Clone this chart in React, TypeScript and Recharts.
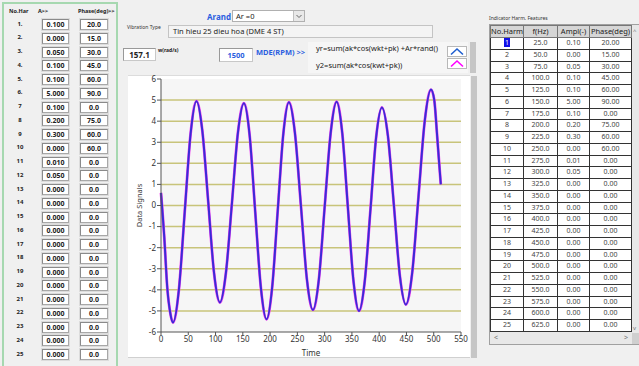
import { LineChart, Line, XAxis, YAxis, CartesianGrid, ReferenceLine } from 'recharts';

// harmonic inputs (left panel) and table (right panel)
const harmNo = ['1.', '2.', '3.', '4.', '5.', '6.', '7', '8', '9', '10', '11', '12', '13', '14', '15', '16', '17', '18', '19', '20', '21', '22', '23', '24', '25'];
const amplitudes = [0.1, 0, 0.05, 0.1, 0.1, 5, 0.1, 0.2, 0.3, 0, 0.01, 0.05, 0, 0, 0, 0, 0, 0, 0, 0, 0, 0, 0, 0, 0];
const phases = [20, 15, 30, 45, 60, 90, 0, 75, 60, 60, 0, 0, 0, 0, 0, 0, 0, 0, 0, 0, 0, 0, 0, 0, 0];
const freqs = [25, 50, 75, 100, 125, 150, 175, 200, 225, 250, 275, 300, 325, 350, 375, 400, 425, 450, 475, 500, 525, 550, 575, 600, 625];

// signal
const timeValues = [0, 6, 11.5, 17, 22, 32.75, 43.5, 54.25, 65, 75.75, 86.5, 97.25, 108, 119, 130, 141, 152, 162.4, 172.75, 183.1, 193.5, 203.75, 214, 224.25, 234.5, 245.5, 256.5, 267.5, 278.5, 289.4, 300.25, 311.1, 322, 332.25, 342.5, 352.75, 363, 373.5, 384, 394.5, 405, 416, 427, 438, 449, 460.5, 472, 483.5, 495, 501, 506, 510, 513];
const yrValues = [0.6, -1.5, -3.9, -5.1, -5.55, -4.0, -0.3, 3.4, 4.95, 3.55, 0.2, -3.2, -4.6, -3.2, 0.1, 3.45, 4.85, 3.35, -0.3, -3.9, -5.4, -3.9, -0.25, 3.4, 4.9, 3.45, 0, -3.5, -4.95, -3.5, 0, 3.45, 4.92, 3.45, -0.05, -3.55, -5.0, -3.6, -0.2, 3.25, 4.65, 3.3, 0, -3.35, -4.7, -3.2, 0.4, 4.0, 5.5, 5.0, 3.4, 2.0, 1.0];
const y2Values = yrValues; // Ar = 0, so both signals coincide

const xTicks = [0, 50, 100, 150, 200, 250, 300, 350, 400, 450, 500, 550];
const yTicks = [-6, -5, -4, -3, -2, -1, 0, 1, 2, 3, 4, 5, 6];
const gridValues = [-5, -4, -3, -2, -1, 0, 1, 2, 3, 4, 5];

const font = '"Noto Sans", "Open Sans", Arial, sans-serif';

const data = timeValues.map((t, i) => ({ t, yr: yrValues[i], y2: y2Values[i] }));

const numBox = (left: number, top: number, w: number, text: string, color = '#222') => (
  <div style={{ position: 'absolute', left, top, width: w, height: 11, boxSizing: 'border-box', background: '#fff', border: '1px solid #a8a8a8', borderTopColor: '#8a8a8a', borderLeftColor: '#8a8a8a', boxShadow: '0 0 0 1px #dcdcdc', fontSize: 7, fontWeight: 700, color, textAlign: 'center', lineHeight: '9px' }}>{text}</div>
);

const colX = [490, 524, 558, 590, 632];

export default function App() {
  return (
    <div style={{ position: 'absolute', left: 0, top: 0, width: 639, height: 366, background: '#f0f0f0', overflow: 'hidden', fontFamily: font, color: '#222' }}>
      {/* left harmonic input panel */}
      <div style={{ position: 'absolute', left: 2, top: 2, width: 112, height: 370, border: '2px solid #a6d8b0' }} />
      <div style={{ position: 'absolute', left: 9, top: 7, fontSize: 5.5, fontWeight: 700 }}>No.Har</div>
      <div style={{ position: 'absolute', left: 38, top: 7, fontSize: 5.5, fontWeight: 700 }}>A&gt;&gt;</div>
      <div style={{ position: 'absolute', left: 78, top: 7, fontSize: 5.5, fontWeight: 700 }}>Phase(deg)&gt;&gt;</div>
      {harmNo.map((n, i) => {
        const cy = 24.5 + i * 13.75;
        return (
          <div key={n}>
            <div style={{ position: 'absolute', left: 12, width: 16, top: cy - 5, fontSize: 6, fontWeight: 700, textAlign: 'center' }}>{n}</div>
            {numBox(42, cy - 5.5, 27, amplitudes[i].toFixed(3))}
            {numBox(80, cy - 5.5, 28, phases[i].toFixed(1))}
          </div>
        );
      })}

      {/* header controls */}
      <div style={{ position: 'absolute', left: 207, top: 11, fontSize: 8, fontWeight: 700, color: '#2a5ee0' }}>Arand</div>
      <div style={{ position: 'absolute', left: 232, top: 10, width: 73, height: 12, boxSizing: 'border-box', background: '#fff', border: '1px solid #b0b0b0', fontSize: 7.5, lineHeight: '10px', paddingLeft: 3 }}>
        Ar =0
        <div style={{ position: 'absolute', right: 0, top: 0, width: 10, height: 10, background: '#e8e8e8', borderLeft: '1px solid #c0c0c0' }}>
          <svg width={10} height={10}><polyline points="2.5,4 5,6.5 7.5,4" fill="none" stroke="#666" strokeWidth={1} /></svg>
        </div>
      </div>
      <div style={{ position: 'absolute', left: 127, top: 24, fontSize: 5, color: '#333' }}>Vibration Type</div>
      <div style={{ position: 'absolute', left: 168, top: 25, width: 265, height: 13, boxSizing: 'border-box', background: '#f4f4f4', border: '1px solid #c4c4c4', fontSize: 7.5, lineHeight: '11px', paddingLeft: 4 }}>Tin hieu 25 dieu hoa (DME 4 ST)</div>

      <div style={{ position: 'absolute', left: 123, top: 48, width: 33, height: 13, boxSizing: 'border-box', background: '#fff', border: '1px solid #c8c8c8', borderTopColor: '#999', borderLeftColor: '#999', fontSize: 8, fontWeight: 700, lineHeight: '11px', textAlign: 'center' }}>157.1</div>
      <div style={{ position: 'absolute', left: 158, top: 47, fontSize: 5, fontWeight: 700 }}>w(rad/s)</div>
      <div style={{ position: 'absolute', left: 219, top: 48, width: 34, height: 14, boxSizing: 'border-box', background: '#fff', border: '1px solid #c8c8c8', borderTopColor: '#999', borderLeftColor: '#999', fontSize: 7.5, fontWeight: 700, lineHeight: '12px', textAlign: 'center', color: '#2a5ee0' }}>1500</div>
      <div style={{ position: 'absolute', left: 256, top: 47, fontSize: 7.5, fontWeight: 700, color: '#2a5ee0' }}>MDE(RPM) &gt;&gt;</div>

      {/* legend */}
      <div style={{ position: 'absolute', left: 308, top: 42, width: 160, height: 31, background: '#f6f6f6' }} />
      <div style={{ position: 'absolute', left: 316, top: 43, fontSize: 7.5 }}>yr=sum(ak*cos(wkt+pk) +Ar*rand()</div>
      <div style={{ position: 'absolute', left: 316, top: 60, fontSize: 7.5 }}>y2=sum(ak*cos(kwt+pk))</div>
      {[{ top: 46, c: '#1f5fd0' }, { top: 58, c: '#ff00ff' }].map((ic) => (
        <div key={ic.top} style={{ position: 'absolute', left: 447, top: ic.top, width: 20, height: 11, boxSizing: 'border-box', background: '#fff', border: '1px solid #b8b8b8' }}>
          <svg width={18} height={9} style={{ display: 'block' }}><polyline points="3,7.5 9,2 15,7.5" fill="none" stroke={ic.c} strokeWidth={1.6} /></svg>
        </div>
      ))}
      <div style={{ position: 'absolute', left: 470, top: 42, width: 6, height: 31, background: '#c6c6c6' }} />

      {/* chart panel */}
      <div style={{ position: 'absolute', left: 128, top: 75, width: 342, height: 283, background: '#fff', borderTop: '1px solid #dcdcdc', borderBottom: '1px solid #d0d0d0', boxSizing: 'border-box' }} />
      <div style={{ position: 'absolute', left: 128, top: 70, width: 342, height: 288 }}>
        <LineChart width={342} height={288} data={data} margin={{ top: 9, right: 9, bottom: 0, left: 11 }}>
          <CartesianGrid fill="#f6f6f6" horizontal={false} vertical={false} />
          {gridValues.map((v) => (
            <ReferenceLine key={v} y={v} stroke="#c8c47a" strokeWidth={1.5} />
          ))}
          <XAxis
            dataKey="t"
            type="number"
            domain={[0, 550]}
            ticks={xTicks}
            height={26}
            tickSize={3}
            tickMargin={1}
            stroke="#555"
            tick={{ fontSize: 8, fill: '#333', fontFamily: font }}
            label={{ value: 'Time', position: 'insideBottom', offset: 2, style: { fontSize: 8, fill: '#333', fontFamily: font } }}
          />
          <YAxis
            type="number"
            domain={[-6, 6]}
            ticks={yTicks}
            width={22}
            tickSize={4}
            tickMargin={1}
            stroke="#555"
            interval={0}
            tick={{ fontSize: 8, fill: '#333', fontFamily: font }}
            label={{ value: 'Data Signals', angle: -90, position: 'insideLeft', offset: 0, style: { fontSize: 7.5, fill: '#333', fontFamily: font, textAnchor: 'middle' } }}
          />
          <Line dataKey="y2" type="monotone" stroke="#f040f0" strokeWidth={2.8} dot={false} isAnimationActive={false} />
          <Line dataKey="yr" type="monotone" stroke="#3a2cd6" strokeWidth={2} dot={false} isAnimationActive={false} />
        </LineChart>
      </div>
      <div style={{ position: 'absolute', left: 471, top: 76, width: 6, height: 282, background: '#c6c6c6' }} />

      {/* right table */}
      <div style={{ position: 'absolute', left: 489, top: 15, fontSize: 5, color: '#333' }}>Indicator Harm. Features</div>
      <div style={{ position: 'absolute', left: 489, top: 24, width: 150, height: 321, background: '#e4e4e4', border: '1px solid #a0a0a0', boxSizing: 'border-box' }} />
      {['No.Harm', 'f(Hz)', 'Ampl(-)', 'Phase(deg)'].map((h, c) => (
        <div key={h} style={{ position: 'absolute', left: colX[c], top: 25, width: colX[c + 1] - colX[c], height: 13, boxSizing: 'border-box', background: '#d6d6d6', border: '1px solid #777', borderLeftWidth: c === 0 ? 1 : 0, fontSize: 7.5, lineHeight: '11px', textAlign: 'center' }}>{h}</div>
      ))}
      {freqs.map((f, i) => {
        const cells = [String(i + 1), f.toFixed(1), amplitudes[i].toFixed(2), phases[i].toFixed(2)];
        return cells.map((txt, c) => (
          <div key={i + '-' + c} style={{ position: 'absolute', left: colX[c], top: 38 + i * 11.75, width: colX[c + 1] - colX[c], height: 11.75, boxSizing: 'border-box', background: '#fff', borderRight: '1px solid #333', borderBottom: '1px solid #333', borderLeft: c === 0 ? '1px solid #333' : 'none', fontSize: 7, lineHeight: '10.5px', textAlign: 'center', color: '#444' }}>
            {i === 0 && c === 0 ? <span style={{ background: '#1010e8', color: '#fff', padding: '0 1px' }}>1</span> : txt}
          </div>
        ));
      })}
      <div style={{ position: 'absolute', left: 490, top: 332, width: 142, height: 12, background: '#e8e8e8', fontSize: 7, color: '#777', lineHeight: '12px' }}>
        <span style={{ position: 'absolute', left: 4 }}>&lt;</span>
        <span style={{ position: 'absolute', right: 4 }}>&gt;</span>
      </div>
      <div style={{ position: 'absolute', left: 632, top: 25, width: 7, height: 319, background: '#e8e8e8' }}>
        <div style={{ position: 'absolute', top: 2, left: 1, fontSize: 6, color: '#777' }}>^</div>
        <div style={{ position: 'absolute', bottom: 12, left: 1, fontSize: 6, color: '#777' }}>v</div>
        <div style={{ position: 'absolute', bottom: 0, left: 0, width: 7, height: 11, background: '#cfcfcf' }} />
      </div>
    </div>
  );
}
